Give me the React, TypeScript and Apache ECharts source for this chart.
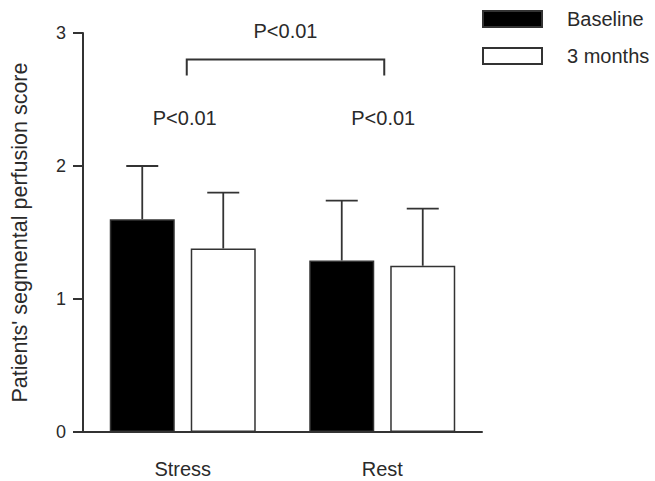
import React, { useEffect, useRef } from "react";
import * as echarts from "echarts";

const categories = ["Stress", "Rest"];
const baselineMeans = [1.6, 1.29];
const baselineUpper = [2.0, 1.74];
const threeMonthMeans = [1.38, 1.25];
const threeMonthUpper = [1.8, 1.68];
const seriesNames = ["Baseline", "3 months"];
const yTicks = [0, 1, 2, 3];
const withinLabels = ["P<0.01", "P<0.01"];
const withinLabelY = 2.36;
const betweenLabel = "P<0.01";
const betweenLabelY = 3.015;
const bracketY = 2.8;
const bracketFootY = 2.68;

const FONT = "'Liberation Sans', Arial, Helvetica, sans-serif";
const TEXT = "#2a2a2a";
const LINE = "#333";
const BAR_W = 65;
const BAR_GAP = 16;

export default function App() {
  const ref = useRef<HTMLDivElement>(null);
  useEffect(() => {
    if (!ref.current) return;
    const chart = echarts.init(ref.current, null, { renderer: "svg" });
    const off = (BAR_W + BAR_GAP) / 2;
    const errorData: number[][] = [];
    categories.forEach((_, i) => {
      errorData.push([i, baselineMeans[i], baselineUpper[i], -1]);
      errorData.push([i, threeMonthMeans[i], threeMonthUpper[i], 1]);
    });
    chart.setOption({
      animation: false,
      backgroundColor: "#fff",
      grid: { left: 83, right: 173, top: 33, bottom: 49 },
      legend: {
        left: 482,
        top: 9,
        padding: 0,
        orient: "vertical",
        icon: "rect",
        itemWidth: 59,
        itemHeight: 16,
        itemGap: 17,
        selectedMode: false,
        textStyle: { fontFamily: FONT, fontSize: 20, color: TEXT, padding: [0, 0, 0, 20] },
        data: seriesNames,
      },
      xAxis: {
        type: "category",
        data: categories,
        axisLine: { lineStyle: { color: LINE, width: 2 } },
        axisTick: { show: false },
        axisLabel: { fontFamily: FONT, fontSize: 20, color: TEXT, margin: 27 },
      },
      yAxis: {
        type: "value",
        min: yTicks[0],
        max: yTicks[yTicks.length - 1],
        interval: 1,
        splitLine: { show: false },
        axisLine: { show: true, lineStyle: { color: LINE, width: 2 } },
        axisTick: { show: true, length: 10, lineStyle: { color: LINE, width: 2 } },
        axisLabel: { fontFamily: FONT, fontSize: 18, color: TEXT, margin: 17 },
        name: "Patients' segmental perfusion score",
        nameLocation: "middle",
        nameRotate: 90,
        nameGap: 52,
        nameTextStyle: { fontFamily: FONT, fontSize: 21.5, color: TEXT },
      },
      series: [
        {
          name: seriesNames[0],
          type: "bar",
          data: baselineMeans,
          barWidth: BAR_W,
          barGap: ((BAR_GAP / BAR_W) * 100).toFixed(1) + "%",
          itemStyle: { color: "#000", borderColor: LINE, borderWidth: 1.5 },
        },
        {
          name: seriesNames[1],
          type: "bar",
          data: threeMonthMeans,
          barWidth: BAR_W,
          itemStyle: { color: "#fff", borderColor: LINE, borderWidth: 1.5 },
        },
        {
          type: "custom",
          clip: false,
          silent: true,
          data: errorData,
          renderItem: (params: any, api: any) => {
            const i = api.value(0);
            const side = api.value(3);
            const lo = api.coord([i, api.value(1)]);
            const hi = api.coord([i, api.value(2)]);
            const x = lo[0] + side * off;
            const st = { stroke: LINE, lineWidth: 1.8 };
            return {
              type: "group",
              children: [
                { type: "line", shape: { x1: x, y1: lo[1], x2: x, y2: hi[1] }, style: st },
                { type: "line", shape: { x1: x - 16, y1: hi[1], x2: x + 16, y2: hi[1] }, style: st },
              ],
            };
          },
        },
        {
          type: "custom",
          clip: false,
          silent: true,
          data: [[0, 1]],
          renderItem: (params: any, api: any) => {
            const a = api.coord([api.value(0), bracketY]);
            const b = api.coord([api.value(1), bracketY]);
            const af = api.coord([api.value(0), bracketFootY]);
            const st = { stroke: LINE, lineWidth: 2, fill: null };
            const lx = a[0] + 4;
            const rx = b[0] + 2;
            const mid = api.coord([api.value(0), betweenLabelY]);
            const wl0 = api.coord([0, withinLabelY]);
            const wl1 = api.coord([1, withinLabelY]);
            const ts = { fontFamily: FONT, fontSize: 20, fill: TEXT, align: "center", verticalAlign: "middle" };
            return {
              type: "group",
              children: [
                {
                  type: "polyline",
                  shape: { points: [[lx, af[1]], [lx, a[1]], [rx, a[1]], [rx, af[1]]] },
                  style: st,
                },
                { type: "text", x: (a[0] + b[0]) / 2 + 3, y: mid[1], style: { ...ts, text: betweenLabel } },
                { type: "text", x: wl0[0] + 2, y: wl0[1], style: { ...ts, text: withinLabels[0] } },
                { type: "text", x: wl1[0] + 1, y: wl1[1], style: { ...ts, text: withinLabels[1] } },
              ],
            };
          },
        },
      ],
    });
    return () => chart.dispose();
  }, []);
  return (
    <div
      ref={ref}
      style={{ position: "fixed", left: 0, top: 0, width: 655, height: 481 }}
    />
  );
}
